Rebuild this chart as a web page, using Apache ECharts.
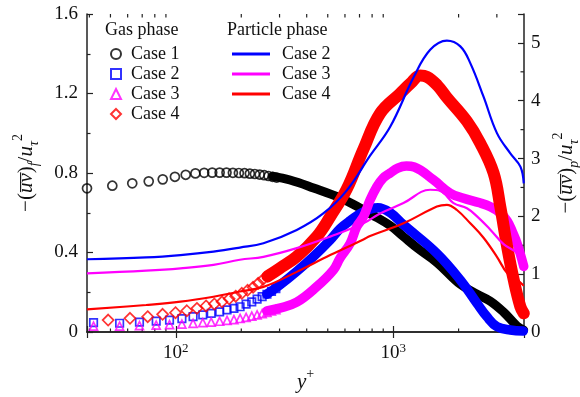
<!DOCTYPE html>
<html>
<head>
<meta charset="utf-8">
<script src="https://cdn.jsdelivr.net/npm/echarts@6.0.0/dist/echarts.min.js"></script>
<style>
  html, body { margin: 0; padding: 0; background: #fff; }
  #chart { width: 580px; height: 397px; }
</style>
</head>
<body>
<div id="chart"></div>
<script>
// y+ range and tick helpers
var xRange = [39, 4000];
var xMinorTicks = [40, 50, 60, 70, 80, 90, 200, 300, 400, 500, 600, 700, 800, 900, 2000, 3000];
var rightMinorTicks = [0.5, 1.5, 2.5, 3.5, 4.5];

// gas phase, individual markers (left axis)
var gas1X = [39, 51, 63, 75, 87, 99, 111, 123, 135, 147, 159, 171, 183, 195, 207, 219, 231, 243, 255, 267, 279, 291];
var gas1Y = [0.723, 0.736, 0.748, 0.758, 0.768, 0.781, 0.791, 0.798, 0.801, 0.802, 0.802, 0.802, 0.801, 0.800, 0.799, 0.797, 0.795, 0.792, 0.789, 0.785, 0.781, 0.777];
var gas23X = [41.8, 55.1, 68, 81.2, 93.5, 106.6, 120, 133, 145.4, 159, 172, 185, 197.5, 210.5, 223.5, 236.5, 249.5, 262.5, 275.5, 288.5];
var gas2Y = [0.047, 0.044, 0.05, 0.055, 0.06, 0.067, 0.077, 0.086, 0.094, 0.101, 0.111, 0.119, 0.127, 0.14, 0.152, 0.165, 0.178, 0.19, 0.204, 0.218];
var gas3Y = [0.03, 0.03, 0.032, 0.035, 0.037, 0.04, 0.043, 0.047, 0.05, 0.054, 0.058, 0.062, 0.068, 0.074, 0.08, 0.086, 0.092, 0.099, 0.106, 0.113];
var gas4X = [48.8, 61.5, 74.2, 86.9, 99.6, 112.3, 125, 137.7, 150.4, 163.1, 175.8, 188.5, 201.2, 213.9, 226.6, 239.3, 252, 264.7, 277.4, 290.1];
var gas4Y = [0.06, 0.069, 0.077, 0.089, 0.097, 0.107, 0.119, 0.131, 0.141, 0.152, 0.167, 0.18, 0.195, 0.21, 0.225, 0.245, 0.265, 0.28, 0.295, 0.31];

// gas phase, where the markers merge into a solid band
var gas1Band = [[280, 0.783], [335, 0.765], [430, 0.725], [570, 0.675], [700, 0.625], [800, 0.59], [970, 0.535], [1115, 0.48], [1300, 0.42], [1589, 0.35], [2037, 0.24], [2432, 0.19], [2800, 0.155], [3223, 0.10], [3715, 0.03], [3985, 0.01]];
var gas2Band = [[262, 0.19], [300, 0.235], [360, 0.305], [430, 0.38], [513, 0.463], [570, 0.52], [634, 0.56], [730, 0.605], [850, 0.625], [970, 0.60], [1115, 0.54], [1589, 0.396], [2037, 0.262], [2432, 0.144], [2700, 0.077], [3003, 0.027], [3460, 0.01], [3970, 0.005]];
var gas3Band = [[262, 0.106], [300, 0.12], [360, 0.15], [445, 0.228], [531, 0.312], [570, 0.372], [634, 0.446], [680, 0.53], [730, 0.58], [783, 0.664], [841, 0.731], [900, 0.775], [969, 0.80], [1050, 0.825], [1150, 0.835], [1250, 0.83], [1534, 0.765], [1831, 0.698], [2108, 0.673], [2500, 0.65], [2800, 0.63], [3100, 0.60], [3345, 0.56], [3550, 0.50], [3717, 0.446], [3990, 0.33]];
var gas4Band = [[264, 0.28], [300, 0.32], [360, 0.379], [445, 0.48], [513, 0.58], [612, 0.72], [730, 0.92], [871, 1.10], [1077, 1.20], [1200, 1.25], [1331, 1.29], [1430, 1.284], [1600, 1.24], [1767, 1.18], [2185, 1.06], [2516, 0.95], [2898, 0.80], [3112, 0.63], [3345, 0.43], [3591, 0.26], [3850, 0.127], [3990, 0.094]];

// particle phase (right axis)
var part2 = [[39, 1.258], [73, 1.29], [105, 1.33], [149, 1.39], [197, 1.46], [253, 1.535], [360, 1.765], [477, 2.05], [612, 2.45], [783, 3.05], [969, 3.55], [1240, 4.40], [1480, 4.88], [1767, 5.04], [2037, 4.94], [2264, 4.65], [2605, 4.07], [3003, 3.44], [3460, 3.09], [3850, 2.86], [3990, 2.57]];
var part3 = [[39, 1.015], [73, 1.06], [105, 1.10], [149, 1.16], [197, 1.25], [253, 1.30], [360, 1.45], [513, 1.65], [730, 1.88], [871, 2.05], [1115, 2.23], [1480, 2.46], [1647, 2.44], [1896, 2.23], [2185, 2.14], [2432, 2.0], [2800, 1.77], [3222, 1.52], [3717, 1.36], [3990, 1.1]];
var part4 = [[39, 0.39], [73, 0.467], [105, 0.524], [149, 0.61], [197, 0.70], [253, 0.78], [360, 1.04], [513, 1.33], [730, 1.6], [783, 1.66], [1115, 1.88], [1589, 2.17], [1767, 2.2], [1965, 2.11], [2264, 1.88], [2605, 1.63], [3003, 1.30], [3345, 1.02], [3717, 0.9], [3990, 0.8]];

var BLACK = '#000000', BLUE = '#0000ff', MAGENTA = '#ff00ff', RED = '#ff0000';
var FONT = '"Liberation Serif", "Times New Roman", "DejaVu Serif", serif';
var AXIS_COLOR = '#222';
var TEXT = '#111';

function zip(xs, ys) {
  return xs.map(function (x, i) { return [x, ys[i]]; });
}

function markers(name, data, symbol, size, color) {
  return {
    name: name, type: 'scatter', data: data,
    symbol: symbol, symbolSize: size,
    itemStyle: { color: 'transparent', borderColor: color, borderWidth: 1.7 },
    silent: true
  };
}

function band(name, data, width, color) {
  return {
    name: name, type: 'line', data: data, smooth: 0.4,
    showSymbol: false,
    lineStyle: { color: color, width: width, cap: 'round', join: 'round' },
    itemStyle: { color: color },
    silent: true
  };
}

function particle(name, data, color) {
  return {
    name: name, type: 'line', yAxisIndex: 1, data: data, smooth: 0.4,
    showSymbol: false,
    lineStyle: { color: color, width: 2.2 },
    itemStyle: { color: color },
    silent: true
  };
}

var nameRich = {
  n: { fontFamily: FONT, fontSize: 21, color: TEXT, lineHeight: 30 },
  i: { fontFamily: FONT, fontSize: 21, fontStyle: 'italic', color: TEXT, lineHeight: 30 },
  sb: { fontFamily: FONT, fontSize: 14, fontStyle: 'italic', color: TEXT, verticalAlign: 'bottom', lineHeight: 14 },
  sp: { fontFamily: FONT, fontSize: 14, color: TEXT, verticalAlign: 'top', lineHeight: 14 }
};

var chartDom = document.getElementById('chart');
var myChart = echarts.init(chartDom, null, { renderer: 'canvas' });
var option;

option = {
  animation: false,
  backgroundColor: '#fff',
  grid: { left: 87, right: 56, top: 14, bottom: 65, outerBoundsMode: 'none', containLabel: false },
  xAxis: [
    {
      type: 'log', min: xRange[0], max: xRange[1],
      name: '{i|y}{sp|+}', nameLocation: 'middle', nameGap: 35,
      nameTextStyle: { rich: nameRich },
      axisLine: { lineStyle: { color: AXIS_COLOR, width: 1.5 } },
      axisTick: { inside: true, length: 6, lineStyle: { color: AXIS_COLOR, width: 1.2 } },
      splitLine: { show: false },
      axisLabel: {
        margin: 10,
        formatter: function (v) {
          var l = Math.log10(v);
          if (Math.abs(l - Math.round(l)) < 1e-6) return '{b|10}{s|' + Math.round(l) + '}';
          return '';
        },
        rich: {
          b: { fontFamily: FONT, fontSize: 19, color: TEXT, lineHeight: 22 },
          s: { fontFamily: FONT, fontSize: 13, color: TEXT, verticalAlign: 'top', lineHeight: 12 }
        }
      }
    },
    {
      type: 'log', position: 'top', min: xRange[0], max: xRange[1],
      axisLine: { lineStyle: { color: AXIS_COLOR, width: 1.5 } },
      axisTick: { inside: true, length: 6, lineStyle: { color: AXIS_COLOR, width: 1.2 } },
      axisLabel: { show: false },
      splitLine: { show: false }
    }
  ],
  yAxis: [
    {
      type: 'value', min: 0, max: 1.6, interval: 0.4,
      name: '{n|−(}{i|u̅v̅}{n|)}{sb|f}{n|/}{i|u}{sb|τ}{sp|2}',
      nameLocation: 'middle', nameGap: 46, nameRotate: 90,
      nameTextStyle: { rich: nameRich },
      axisLine: { show: true, lineStyle: { color: AXIS_COLOR, width: 1.5 } },
      axisTick: { show: true, inside: true, length: 6, lineStyle: { color: AXIS_COLOR, width: 1.2 } },
      minorTick: { show: true, splitNumber: 2, length: 3.5, lineStyle: { color: AXIS_COLOR, width: 1.2 } },
      splitLine: { show: false },
      axisLabel: {
        margin: 9, fontFamily: FONT, fontSize: 19, color: TEXT,
        formatter: function (v) { return v === 0 ? '0' : v.toFixed(1); }
      }
    },
    {
      type: 'value', min: 0, max: 5.5, interval: 1, position: 'right',
      name: '{n|−(}{i|u̅v̅}{n|)}{sb|p}{n|/}{i|u}{sb|τ}{sp|2}',
      nameLocation: 'middle', nameGap: 27, nameRotate: 90,
      nameTextStyle: { rich: nameRich },
      axisLine: { show: true, lineStyle: { color: AXIS_COLOR, width: 1.5 } },
      axisTick: { show: true, inside: true, length: 6, lineStyle: { color: AXIS_COLOR, width: 1.2 } },
      splitLine: { show: false },
      axisLabel: {
        margin: 7, fontFamily: FONT, fontSize: 19, color: TEXT,
        formatter: function (v) { return Math.abs(v - Math.round(v)) < 1e-6 ? String(v) : ''; }
      }
    }
  ],
  legend: [
    {
      orient: 'vertical', left: 105, top: 40,
      itemWidth: 10, itemHeight: 10, itemGap: 2,
      textStyle: { fontFamily: FONT, fontSize: 18, color: TEXT, lineHeight: 18, padding: [0, 0, 0, 5] },
      formatter: function (name) { return name.replace(/^Gas /, ''); },
      selectedMode: false,
      data: [
        { name: 'Gas Case 1', icon: 'circle', itemStyle: { color: 'transparent', borderColor: BLACK, borderWidth: 2 } },
        { name: 'Gas Case 2', icon: 'rect', itemStyle: { color: 'transparent', borderColor: BLUE, borderWidth: 2 } },
        { name: 'Gas Case 3', icon: 'triangle', itemStyle: { color: 'transparent', borderColor: MAGENTA, borderWidth: 2 } },
        { name: 'Gas Case 4', icon: 'diamond', itemStyle: { color: 'transparent', borderColor: RED, borderWidth: 2 } }
      ]
    },
    {
      orient: 'vertical', left: 227, top: 40,
      itemWidth: 38, itemHeight: 3, itemGap: 2,
      textStyle: { fontFamily: FONT, fontSize: 18, color: TEXT, lineHeight: 18, padding: [0, 0, 0, 7] },
      formatter: function (name) { return name.replace(/^Particle /, ''); },
      selectedMode: false,
      data: [
        { name: 'Particle Case 2', icon: 'rect', itemStyle: { color: BLUE } },
        { name: 'Particle Case 3', icon: 'rect', itemStyle: { color: MAGENTA } },
        { name: 'Particle Case 4', icon: 'rect', itemStyle: { color: RED } }
      ]
    }
  ],
  series: [
    markers('Gas Case 1', zip(gas1X, gas1Y), 'circle', 9, BLACK),
    band('Gas Case 1', gas1Band, 9, BLACK),
    markers('Gas Case 2', zip(gas23X, gas2Y), 'rect', 7.5, BLUE),
    band('Gas Case 2', gas2Band, 9.5, BLUE),
    markers('Gas Case 3', zip(gas23X, gas3Y), 'triangle', 8, MAGENTA),
    band('Gas Case 3', gas3Band, 9.5, MAGENTA),
    markers('Gas Case 4', zip(gas4X, gas4Y), 'diamond', 11, RED),
    band('Gas Case 4', gas4Band, 12, RED),
    particle('Particle Case 2', part2, BLUE),
    particle('Particle Case 3', part3, MAGENTA),
    particle('Particle Case 4', part4, RED)
  ],
  graphic: [
    { type: 'text', left: 105, top: 21, silent: true,
      style: { text: 'Gas phase', font: '18px ' + FONT, fill: TEXT } },
    { type: 'text', left: 227, top: 21, silent: true,
      style: { text: 'Particle phase', font: '18px ' + FONT, fill: TEXT } }
  ]
};
option && myChart.setOption(option);

// minor ticks of the log axes and the right axis, placed through the axes' own scales
var tickLines = [];
var yBottom = myChart.convertToPixel({ yAxisIndex: 0 }, 0);
var yTop = myChart.convertToPixel({ yAxisIndex: 0 }, 1.6);
var xRight = myChart.convertToPixel({ xAxisIndex: 0 }, xRange[1]);
var tickStyle = { stroke: AXIS_COLOR, lineWidth: 1.2 };
xMinorTicks.forEach(function (v) {
  var x = myChart.convertToPixel({ xAxisIndex: 0 }, v);
  tickLines.push({ type: 'line', silent: true, shape: { x1: x, y1: yBottom, x2: x, y2: yBottom - 3.5 }, style: tickStyle });
  tickLines.push({ type: 'line', silent: true, shape: { x1: x, y1: yTop, x2: x, y2: yTop + 3.5 }, style: tickStyle });
});
rightMinorTicks.forEach(function (v) {
  var y = myChart.convertToPixel({ yAxisIndex: 1 }, v);
  tickLines.push({ type: 'line', silent: true, shape: { x1: xRight, y1: y, x2: xRight - 3.5, y2: y }, style: tickStyle });
});
myChart.setOption({ graphic: option.graphic.concat(tickLines) });
</script>
</body>
</html>
